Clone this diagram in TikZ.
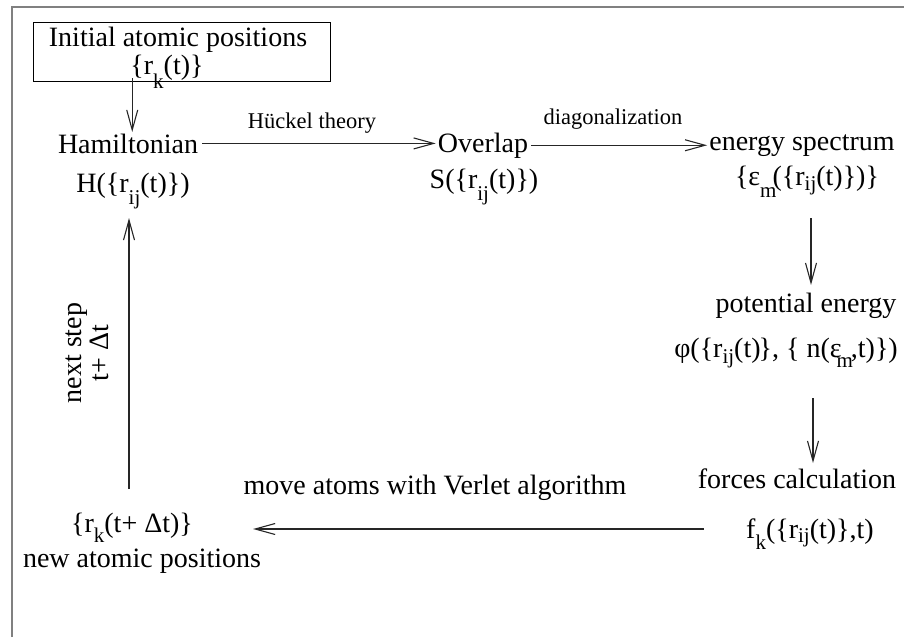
\documentclass[tikz,border=0pt]{standalone}
\usepackage{fontspec}
\setmainfont{Liberation Serif}
\usetikzlibrary{arrows.meta,calc}
\newcommand\sbx[2][10pt]{\raisebox{-#1}{\fontsize{21}{21}\selectfont #2}}
\begin{document}
\begin{tikzpicture}[x=1pt,y=-1pt,
 lbl/.style={inner sep=0pt, anchor=base, font=\fontsize{28}{27}\selectfont},
 small/.style={inner sep=0pt, anchor=base, font=\fontsize{22.5}{24}\selectfont},
 arr/.style={-{Straight Barb[length=20pt,width=11pt]}, line width=1.1pt, draw=black!85},
 frame/.style={draw=gray, line width=2pt}]
\useasboundingbox (0,0) rectangle (904,637);
\draw[frame] (12,637) -- (12,7) -- (904,7);
\node[draw, line width=1pt, minimum width=297pt, minimum height=59pt, inner sep=0pt] (init) at (181.5,51.5) {};
\node[lbl] (title) at (178,46) {Initial atomic positions};
\node[lbl] (rk) at (167,74) {\{r\sbx[14pt]{k}(t)\}};
\node[lbl] (ham) at (128,153) {Hamiltonian};
\node[lbl] (hij) at (133,192) {H(\{r\sbx[12pt]{ij}(t)\})};
\node[lbl] (ovl) at (483,152) {Overlap};
\node[lbl] (sij) at (484,188) {S(\{r\sbx[12pt]{ij}(t)\})};
\node[lbl] (en) at (802,150) {energy spectrum};
\node[lbl] (eps) at (807,185) {\{ε\sbx[12pt]{m}\kern-4pt(\{r\sbx[5pt]{ij}(t)\})\}};
\node[lbl] (pot) at (806,312) {potential energy};
\node[lbl, anchor=base east] (phi) at (898,357) {φ(\{r\sbx[6pt]{ij}(t)\kern-2pt\}, \{ n(ε\kern-5pt\sbx[10pt]{m}\kern-2pt,t)\})};
\node[lbl] (forces) at (797,488) {forces calculation};
\node[lbl] (fk) at (810,538) {f\sbx[11pt]{k}(\{r\sbx[4pt]{ij}(t)\},t)};
\node[lbl] (rk2) at (132,532) {\{r\sbx[10pt]{k}(t+ Δt)\}};
\node[lbl] (newpos) at (142,567) {new atomic positions};
\node[lbl, rotate=90, anchor=center, align=center] (nstep) at (87,353) {next step\\t+ Δt};
\node[small] (huckel) at (312,128) {Hückel theory};
\node[small] (diag) at (613,124) {diagonalization};
\node[lbl] (verlet) at (435,494) {move atoms with Verlet algorithm};
% arrows
\coordinate (s0) at ($(rk.base west)+(2,4)$);
\coordinate (e0) at ($(ham.base)+(5,-21)$);
\draw[arr] (s0) -- (s0 |- e0);
\draw[arr] ($(ham.east)+(4,0)$) -- ($(ovl.west |- ham.east)+(-2,0)$);
\draw[arr] ($(ovl.east)+(3,0)$) -- ($(en.west |- ovl.east)+(-2,0)$);
\coordinate (a1) at ($(eps.base)+(4,33)$);
\coordinate (a2) at ($(pot.base)+(5,-27)$);
\draw[arr] (a1) -- (a1 |- a2);
\coordinate (b1) at ($(phi.base east)+(-85,41)$);
\coordinate (b2) at ($(forces.base)+(16,-25)$);
\draw[arr] (b1) -- (b1 |- b2);
\coordinate (c1) at ($(forces.base west)+(6,41)$);
\coordinate (c2) at ($(rk2.base east)+(60,-3)$);
\draw[arr] (c1) -- (c2 |- c1);
\coordinate (d1) at ($(rk2.base)+(-3,-43)$);
\coordinate (d2) at ($(hij.base)+(-4,26)$);
\draw[arr] (d1) -- (d1 |- d2);
\end{tikzpicture}
\end{document}
